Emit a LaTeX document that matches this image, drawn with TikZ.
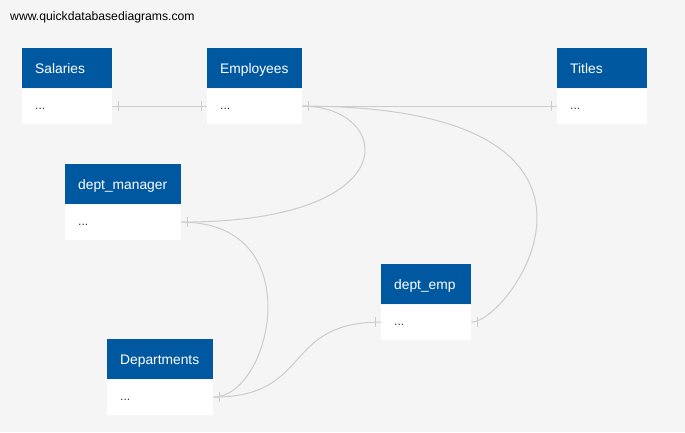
\documentclass[tikz,border=0pt]{standalone}
\usepackage{fontspec}
\setmainfont{Liberation Sans}
\usetikzlibrary{positioning}
\definecolor{qdbblue}{RGB}{0,88,160}
\definecolor{qdbbg}{RGB}{244,245,244}
\definecolor{qdbline}{RGB}{204,204,204}
\definecolor{qdbtext}{RGB}{51,51,51}

\begin{document}
\begin{tikzpicture}[x=1pt,y=-1pt,
    head/.style={fill=qdbblue, text=white, font=\fontsize{13.8}{16}\selectfont, anchor=north west,
                 inner xsep=13pt, inner ysep=0pt, minimum height=40pt, text width=#1, align=left,
                 text height=12pt, text depth=2pt},
    body/.style={fill=white, text=qdbtext, font=\fontsize{12}{14}\selectfont,
                 inner xsep=13pt, inner ysep=0pt, minimum height=35pt, text width=#1, align=left,
                 text height=9pt, text depth=2pt},
    link/.style={draw=qdbline, line width=1pt}]
  \useasboundingbox (0,0) rectangle (685,432);
  \fill[qdbbg] (0,0) rectangle (685,432);

  \node[anchor=base west, inner sep=0pt, font=\fontsize{12.2}{14}\selectfont] (url) at (10,20.5) {www.quickdatabasediagrams.com};

  % tables
  \node[head=64pt] (sal) at (22,48)   {Salaries};
  \node[body=64pt]  (salb) [below=0pt of sal] {...};
  \node[head=69pt] (emp) at (207,48)  {Employees};
  \node[body=69pt]  (empb) [below=0pt of emp] {...};
  \node[head=64pt] (tit) at (557,48)  {Titles};
  \node[body=64pt]  (titb) [below=0pt of tit] {...};
  \node[head=90pt] (dm)  at (65,164)  {dept\_manager};
  \node[body=90pt]  (dmb)  [below=0pt of dm]  {...};
  \node[head=64pt] (de)  at (381,264) {dept\_emp};
  \node[body=64pt]  (deb)  [below=0pt of de]  {...};
  \node[head=80pt] (dep) at (107,339) {Departments};
  \node[body=80pt]  (depb) [below=0pt of dep] {...};

  % relations
  \draw[link] (salb) -- (empb);
  \draw[link] (empb) -- (titb);
  \draw[link] (empb.east) .. controls +(90,0) and +(230,0) .. (dmb.east);
  \draw[link] (empb.east) .. controls +(360,0) and +(40,0) .. (deb.east);
  \draw[link] (dmb.east) .. controls +(130,0) and +(58,0) .. (depb.east);
  \draw[link] (depb.east) .. controls +(100,0) and +(-100,0) .. (deb.west);

  % bars at the ends
  \foreach \n/\s in {salb.east/6, empb.west/-6, empb.east/6, titb.west/-6,
                     dmb.east/6, depb.east/6, deb.west/-6, deb.east/6}
    \draw[link] ([xshift=\s pt]\n) ++(0,-5) -- ++(0,10);
\end{tikzpicture}
\end{document}
